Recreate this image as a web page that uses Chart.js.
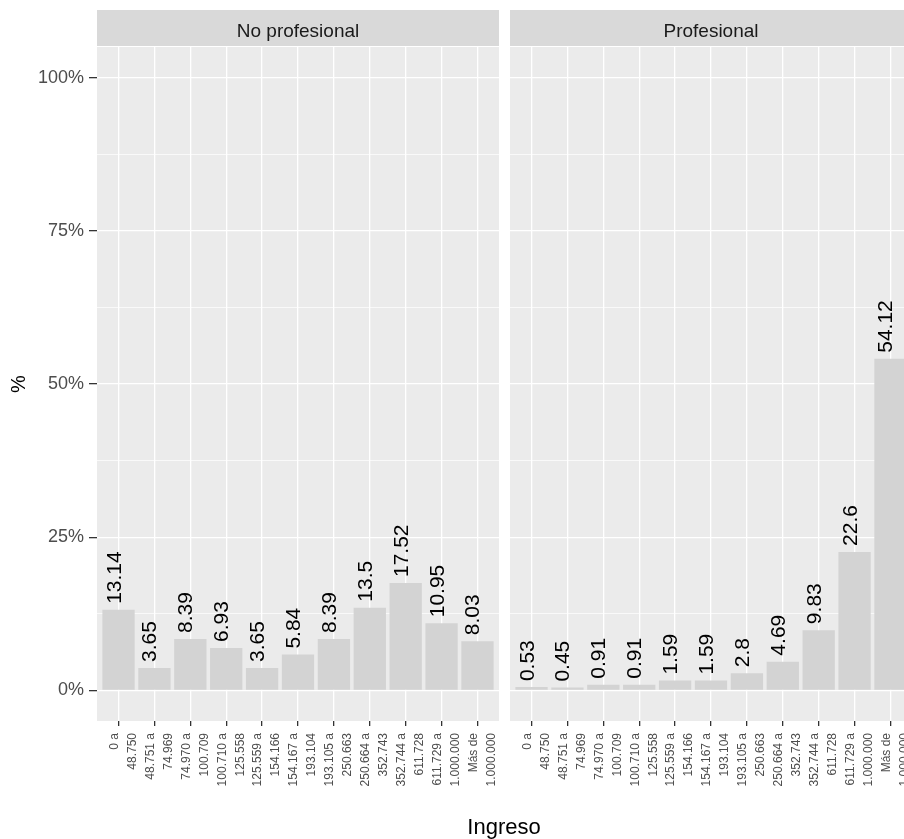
<!DOCTYPE html>
<html>
<head>
<meta charset="utf-8">
<script src="https://cdn.jsdelivr.net/npm/chart.js@4.4.0/dist/chart.umd.min.js"></script>
<style>
html, body { margin: 0; padding: 0; overflow: hidden; background: #fff; width: 904px; height: 839px; }
.panel { position: absolute; top: 0; }
#xTitle {
    position: absolute; left: 404px; width: 200px; top: 814px; height: 22px; line-height: 22px;
    text-align: center; font: 22px "Liberation Sans", Arial, sans-serif; color: #000;
}
</style>
</head>
<body>
<div class="panel" style="left:0"><canvas id="chartNoProf" width="499" height="839"></canvas></div>
<div class="panel" style="left:510px"><canvas id="chartProf" width="402" height="839"></canvas></div>
<div id="xTitle">Ingreso</div>
<script>
// tramos de ingreso (eje x)
const categorias = [
    ['0 a', '48.750'], ['48.751 a', '74.969'], ['74.970 a', '100.709'], ['100.710 a', '125.558'],
    ['125.559 a', '154.166'], ['154.167 a', '193.104'], ['193.105 a', '250.663'], ['250.664 a', '352.743'],
    ['352.744 a', '611.728'], ['611.729 a', '1.000.000'], ['Más de', '1.000.000']
];
const paneles = ['No profesional', 'Profesional'];
const noProfesional = [13.14, 3.65, 8.39, 6.93, 3.65, 5.84, 8.39, 13.5, 17.52, 10.95, 8.03];
const profesional = [0.53, 0.45, 0.91, 0.91, 1.59, 1.59, 2.8, 4.69, 9.83, 22.6, 54.12];
const yTicks = [0, 12.5, 25, 37.5, 50, 62.5, 75, 87.5, 100];
const yMajor = [0, 25, 50, 75, 100];

const fuente = '"Liberation Sans", Arial, sans-serif';

// fondo gris del panel, cabecera (strip) y etiquetas sobre las barras
const facetPlugin = {
    id: 'facet',
    beforeDraw(chart, args, opts) {
        const { ctx, chartArea: a } = chart;
        ctx.save();
        ctx.fillStyle = '#EBEBEB';
        ctx.fillRect(a.left, a.top, a.right - a.left, a.bottom - a.top);
        ctx.fillStyle = '#D9D9D9';
        ctx.fillRect(a.left, 10, a.right - a.left, a.top - 11);
        ctx.fillStyle = '#1A1A1A';
        ctx.font = '19px ' + fuente;
        ctx.textAlign = 'center';
        ctx.textBaseline = 'alphabetic';
        ctx.fillText(opts.titulo, (a.left + a.right) / 2, 37);
        ctx.restore();
    },
    afterDatasetsDraw(chart) {
        const { ctx } = chart;
        const meta = chart.getDatasetMeta(0);
        const data = chart.data.datasets[0].data;
        ctx.save();
        ctx.fillStyle = '#000';
        ctx.font = '21px ' + fuente;
        meta.data.forEach((bar, i) => {
            ctx.save();
            ctx.translate(bar.x + 2, bar.y - 6);
            ctx.rotate(-Math.PI / 2);
            ctx.textAlign = 'left';
            ctx.textBaseline = 'alphabetic';
            ctx.fillText(String(data[i].y), 0, 0);
            ctx.restore();
        });
        ctx.restore();
    }
};

function crearPanel(id, titulo, valores, conEjeY) {
    const esMayor = v => yMajor.includes(v);
    return new Chart(document.getElementById(id), {
        type: 'bar',
        data: {
            datasets: [{
                data: valores.map((v, i) => ({ x: i, y: v })),
                backgroundColor: '#D3D3D3',
                borderWidth: 0,
                categoryPercentage: 1,
                barPercentage: 0.9
            }]
        },
        options: {
            responsive: false,
            animation: false,
            devicePixelRatio: 1,
            layout: { padding: { top: 47, left: 0, right: 0, bottom: 0 } },
            scales: {
                x: {
                    type: 'linear',
                    offset: false,
                    min: -0.6,
                    max: categorias.length - 0.4,
                    afterBuildTicks: s => { s.ticks = categorias.map((c, i) => ({ value: i })); },
                    afterFit: s => { s.height = 118; s.paddingLeft = 0; s.paddingRight = 0; },
                    border: { display: false },
                    grid: { offset: false, color: '#FFFFFF', lineWidth: 1.3, tickColor: '#333333', tickLength: 5 },
                    ticks: {
                        autoSkip: false,
                        minRotation: 90,
                        maxRotation: 90,
                        padding: 7,
                        labelOffset: -4,
                        color: '#4D4D4D',
                        font: { family: fuente, size: 12, lineHeight: 1.5 },
                        callback: (v, i) => categorias[i]
                    }
                },
                y: {
                    min: -5,
                    max: 105,
                    afterBuildTicks: s => { s.ticks = yTicks.map(v => ({ value: v })); },
                    afterFit: s => { s.width = conEjeY ? 97 : 0; },
                    border: { display: false },
                    grid: {
                        color: '#FFFFFF',
                        lineWidth: c => esMayor(c.tick.value) ? 1.3 : 0.7,
                        tickColor: c => esMayor(c.tick.value) ? '#333333' : 'rgba(0,0,0,0)',
                        tickLength: 8,
                        drawTicks: conEjeY
                    },
                    ticks: {
                        display: conEjeY,
                        padding: 5,
                        color: '#4D4D4D',
                        font: { family: fuente, size: 18 },
                        callback: v => esMayor(v) ? v + '%' : ''
                    },
                    title: {
                        display: conEjeY,
                        text: '%',
                        color: '#000',
                        font: { family: fuente, size: 20 },
                        padding: { top: 7, bottom: 0 }
                    }
                }
            },
            plugins: {
                legend: { display: false },
                tooltip: { enabled: false },
                facet: { titulo: titulo }
            }
        },
        plugins: [facetPlugin]
    });
}

crearPanel('chartNoProf', paneles[0], noProfesional, true);
crearPanel('chartProf', paneles[1], profesional, false);
</script>
</body>
</html>
